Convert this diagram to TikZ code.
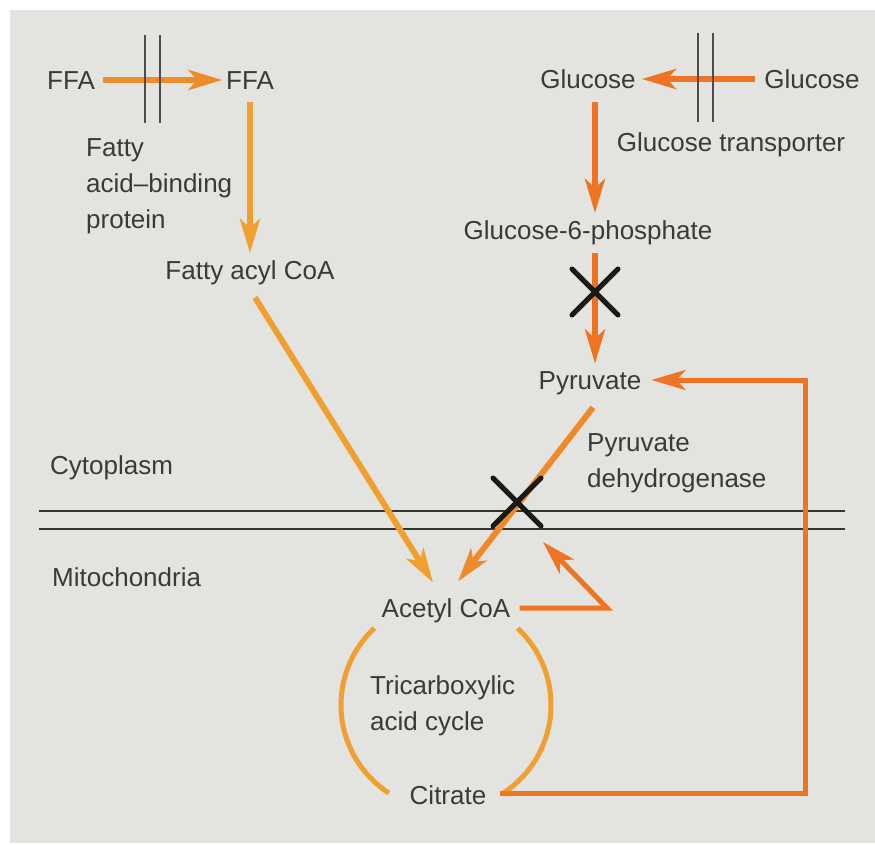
\documentclass[tikz,border=0pt]{standalone}
\usepackage{fontspec}
\setmainfont{Liberation Sans}
\usetikzlibrary{arrows.meta}
\definecolor{bgc}{HTML}{E3E3DF}
\definecolor{txt}{HTML}{3A3A3A}
\definecolor{cA}{HTML}{EE8B2C}
\definecolor{cB}{HTML}{F0A030}
\definecolor{cC}{HTML}{EE7322}
\definecolor{cD}{HTML}{EF8A2A}
\definecolor{memc}{HTML}{34342C}
\begin{document}
\begin{tikzpicture}[x=1pt,y=-1pt,
  lbl/.style={inner sep=0pt, text=txt, font=\fontsize{26}{36}\selectfont, text height=19.6pt, text depth=1pt},
  mlbl/.style={inner sep=0pt, text=txt, font=\fontsize{26}{36}\selectfont, align=left, anchor=north west},
  arr/.style={line width=6pt, -{Stealth[length=34pt,width=20pt,inset=9pt]}},
  arcline/.style={line width=5pt, cB},
  xmark/.style={line width=5pt, line cap=round, black!90},
  mem/.style={line width=2.2pt, memc},
  tport/.style={line width=2pt, black!70}]
\useasboundingbox (0,0) rectangle (875,845);
\fill[white] (0,0) rectangle (875,845);
\fill[bgc] (10,10) rectangle (875,843);

% labels
\node[lbl] (ffa1) at (71,80) {FFA};
\node[lbl] (ffa2) at (250,80) {FFA};
\node[mlbl] (fabp) at (86,138) {Fatty\\acid–binding\\protein};
\node[lbl] (facoa) at (250,270) {Fatty acyl CoA};
\node[lbl] (glc1) at (588,79) {Glucose};
\node[lbl] (glc2) at (812,79) {Glucose};
\node[lbl] (gt) at (731,142) {Glucose transporter};
\node[lbl] (g6p) at (588,230) {Glucose-6-phosphate};
\node[lbl] (pyr) at (590,380) {Pyruvate};
\node[mlbl] (pdh) at (587,433) {Pyruvate\\dehydrogenase};
\node[lbl, anchor=west] (cyto) at (50,465) {Cytoplasm};
\node[lbl, anchor=west] (mito) at (52,577) {Mitochondria};
\node[lbl] (acoa) at (446,608) {Acetyl CoA};
\node[mlbl] (tca) at (370,675) {Tricarboxylic\\acid cycle};
\node[lbl] (cit) at (448,795) {Citrate};

% membrane
\coordinate (mL1) at (39,511); \coordinate (mR1) at (845,511);
\coordinate (mL2) at (39,529); \coordinate (mR2) at (845,529);
\draw[mem] (mL1) -- (mR1) (mL2) -- (mR2);

% fatty acid path
\draw[arr, cA, shorten <=7.5pt, shorten >=3.5pt] (ffa1.east) -- (ffa2.west);
\draw[arr, cB] ([shift={(0,12)}]ffa2.south) -- ([shift={(0,-6.5)}]facoa.north);
\draw[arr, cB] ([shift={(5,17)}]facoa.south) -- ([shift={(-13,-15)}]acoa.north);

% glucose path
\draw[arr, cC, shorten <=9pt, shorten >=6pt] (glc2.west) -- (glc1.east);
\draw[arr, cC] ([shift={(7,13)}]glc1.south) -- ([shift={(7,-6.5)}]g6p.north);
\draw[arr, cC] ([shift={(7,12)}]g6p.south) -- ([shift={(5,-6)}]pyr.north);
\draw[arr, cD] ([shift={(3,17)}]pyr.south) -- ([shift={(12,-16)}]acoa.north);

% TCA cycle arcs
\draw[arcline] (374.4,628.2) arc[start angle=-133, end angle=-237, radius=105];
\draw[arcline] (517.6,628.2) arc[start angle=-47, end angle=57, radius=105];

% citrate return line
\coordinate (tcaR) at (500,793);
\coordinate (rcol) at (805,0);
\draw[arr, cC, line width=5pt] (tcaR) -- (tcaR -| rcol) -- (rcol |- pyr.east) -- ([shift={(10,0)}]pyr.east);

% feedback from acetyl CoA
\coordinate (fbc) at (607,608);
\coordinate (fbt) at (543,542);
\draw[arr, cC, line width=5pt] ([shift={(9,0)}]acoa.east) -- (fbc) -- (fbt);

% transporter double lines
\draw[tport] (145,35) -- (145,123) (160,35) -- (160,123);
\draw[tport] (698,33) -- (698,122) (713,33) -- (713,122);

% blocks
\coordinate (x1) at (595,292);
\draw[xmark] ([shift={(-23,-23)}]x1) -- ([shift={(23,23)}]x1)
             ([shift={(-23,23)}]x1) -- ([shift={(23,-23)}]x1);
\coordinate (x2) at (517,502);
\draw[xmark] ([shift={(-24,-24)}]x2) -- ([shift={(24,24)}]x2)
             ([shift={(-24,24)}]x2) -- ([shift={(24,-24)}]x2);
\end{tikzpicture}
\end{document}
